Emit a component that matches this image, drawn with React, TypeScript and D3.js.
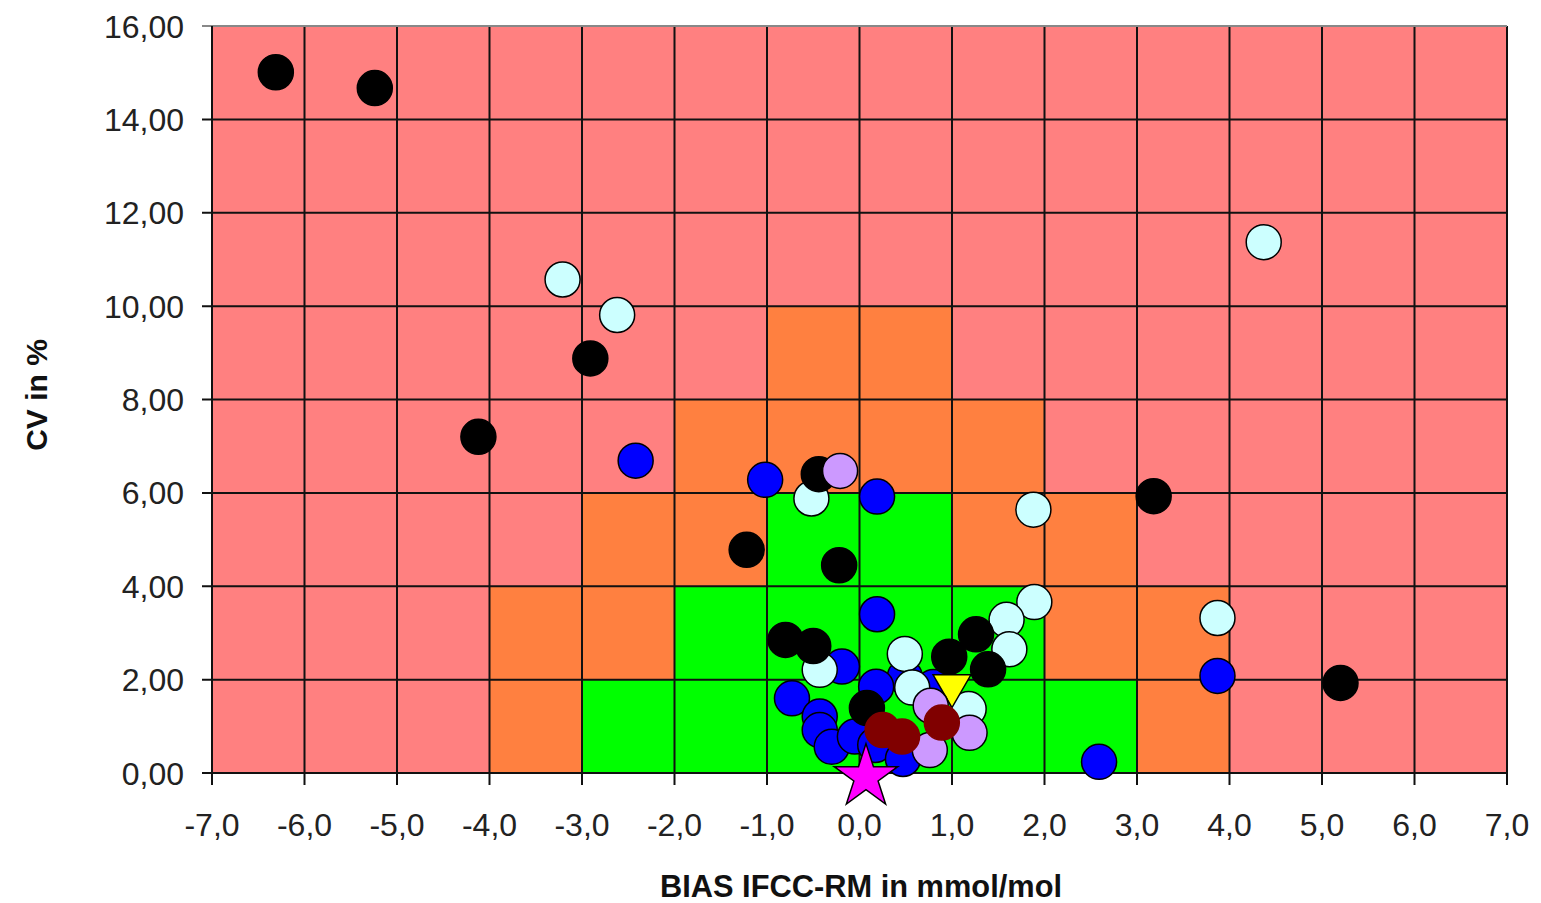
import React from 'react';
import * as d3 from 'd3';

const width = 1541;
const height = 903;
const margin = { top: 26, right: 34, bottom: 130, left: 212 };

// zone bands: CV band edges and half-widths (in bias units) per band
const cvBands = [0, 2, 4, 6, 8, 10];
const greenHalf = [3, 2, 1, 0, 0];
const orangeHalf = [4, 4, 3, 2, 1];

const xTicks = [-7, -6, -5, -4, -3, -2, -1, 0, 1, 2, 3, 4, 5, 6, 7];
const yTicks = [0, 2, 4, 6, 8, 10, 12, 14, 16];

// [bias, cv]
const blueSeries = [
  [-2.42, 6.69], [-1.02, 6.28], [0.19, 5.92], [0.19, 3.4], [-0.19, 2.28],
  [0.49, 2.06], [0.8, 1.84], [0.18, 1.85], [-0.73, 1.6], [-0.43, 1.21],
  [-0.43, 0.92], [-0.3, 0.56], [-0.05, 0.78], [0.17, 0.6], [0.47, 0.3],
  [3.87, 2.08], [2.59, 0.24],
];
const cyanSeries = [
  [-3.21, 10.57], [-2.62, 9.81], [4.37, 11.37], [-0.52, 5.88], [1.88, 5.64],
  [1.89, 3.66], [3.87, 3.32], [1.59, 3.28], [1.62, 2.65], [0.49, 2.55],
  [-0.43, 2.21], [0.57, 1.83], [1.18, 1.37],
];
const yellowSeries = [[1.0, 1.87]];
const blackSeries = [
  [-6.31, 15.01], [-5.24, 14.67], [-2.91, 8.88], [-4.12, 7.2], [-1.22, 4.78],
  [-0.22, 4.45], [-0.44, 6.4], [3.18, 5.93], [5.2, 1.93], [-0.8, 2.85],
  [-0.5, 2.72], [0.08, 1.39], [0.97, 2.49], [1.26, 2.97], [1.39, 2.22],
];
const lavenderSeries = [[-0.21, 6.47], [0.77, 1.44], [1.19, 0.86], [0.76, 0.49]];
const darkRedSeries = [[0.25, 0.92], [0.46, 0.78], [0.89, 1.08]];
const starSeries = [[0.07, 0]];

const circleSeries = [
  { data: blueSeries, fill: '#0000ff', stroke: '#000' },
  { data: cyanSeries, fill: '#ccffff', stroke: '#000' },
  { data: blackSeries, fill: '#000', stroke: '#000' },
  { data: lavenderSeries, fill: '#cc99ff', stroke: '#000' },
  { data: darkRedSeries, fill: '#800000', stroke: '#800000' },
];

const x = d3.scaleLinear().domain([-7, 7]).range([margin.left, width - margin.right]);
const y = d3.scaleLinear().domain([0, 16]).range([height - margin.bottom, margin.top]);

const star = d3.symbol().type(d3.symbolStar).size(1250);
const tri = d3.symbol().type(d3.symbolTriangle).size(620);

const fmtY = (v: number) => v.toFixed(2).replace('.', ',');
const fmtX = (v: number) => v.toFixed(1).replace('.', ',');

const font = 'Arial, "Liberation Sans", sans-serif';

export default function App() {
  const [x0, x1] = x.range();
  const [yb, yt] = y.range();
  const zones: { x0: number; x1: number; y0: number; y1: number; fill: string }[] = [];
  cvBands.slice(0, -1).forEach((c, i) => {
    const o = orangeHalf[i];
    const g = greenHalf[i];
    zones.push({ x0: -o, x1: o, y0: c, y1: cvBands[i + 1], fill: '#ff8040' });
    if (g > 0) zones.push({ x0: -g, x1: g, y0: c, y1: cvBands[i + 1], fill: '#00ff00' });
  });

  const dot = (key: string, d: number[], fill: string, stroke: string) => (
    <circle key={key} cx={x(d[0])} cy={y(d[1])} r={17.5} fill={fill} stroke={stroke} strokeWidth={1.5} />
  );

  return (
    <svg width={width} height={height} style={{ position: 'absolute', left: 0, top: 0, background: '#fff' }}>
      <rect x={x0} y={yt} width={x1 - x0} height={yb - yt} fill="#ff8080" />
      {zones.map((z, i) => (
        <rect key={i} x={x(z.x0)} y={y(z.y1)} width={x(z.x1) - x(z.x0)} height={y(z.y0) - y(z.y1)} fill={z.fill} />
      ))}
      {/* grid */}
      {xTicks.map(t => (
        <line key={'gx' + t} x1={x(t)} x2={x(t)} y1={yt} y2={yb + 12} stroke="#111" strokeWidth={2} />
      ))}
      {yTicks.map(t => (
        <line key={'gy' + t} x1={x0 - 10} x2={x1} y1={y(t)} y2={y(t)} stroke={t === 16 ? '#888' : '#111'} strokeWidth={2} />
      ))}
      <line x1={x0} x2={x0} y1={yt} y2={yb} stroke="#111" strokeWidth={2} />

      {/* points, drawn in series order */}
      {circleSeries.slice(0, 2).map((s, si) => s.data.map((d, i) => dot(`a${si}-${i}`, d, s.fill, s.stroke)))}
      {yellowSeries.map((d, i) => (
        <path key={'yl' + i} d={tri()!} transform={`translate(${x(d[0])},${y(d[1])}) rotate(180)`} fill="#ffff00" stroke="#000" strokeWidth={1.5} />
      ))}
      {circleSeries.slice(2).map((s, si) => s.data.map((d, i) => dot(`b${si}-${i}`, d, s.fill, s.stroke)))}
      {starSeries.map((d, i) => (
        <path key={'st' + i} d={star()!} transform={`translate(${x(d[0])},${y(d[1]) + 4})`} fill="#ff00ff" stroke="#000" strokeWidth={1.5} />
      ))}

      {/* tick labels */}
      {yTicks.map(t => (
        <text key={'ly' + t} x={x0 - 28} y={y(t)} dy="0.36em" textAnchor="end" fontFamily={font} fontSize={32} fill="#222">
          {fmtY(t)}
        </text>
      ))}
      {xTicks.map(t => (
        <text key={'lx' + t} x={x(t)} y={yb + 63} textAnchor="middle" fontFamily={font} fontSize={32} fill="#222">
          {fmtX(t)}
        </text>
      ))}
      <text x={861} y={897} textAnchor="middle" fontFamily={font} fontSize={32} fontWeight="bold" fill="#111" textLength={402} lengthAdjust="spacingAndGlyphs">
        BIAS IFCC-RM in mmol/mol
      </text>
      <text transform="translate(47,395) rotate(-90)" textAnchor="middle" fontFamily={font} fontSize={30} fontWeight="bold" fill="#111">
        CV in %
      </text>
    </svg>
  );
}
